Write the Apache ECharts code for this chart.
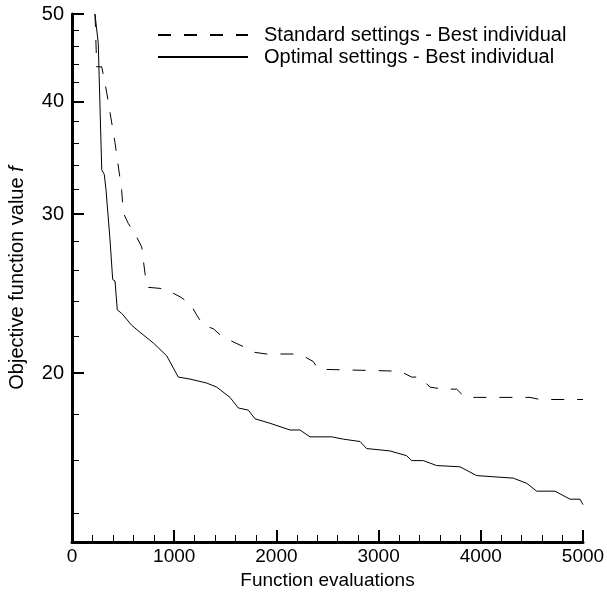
<!DOCTYPE html>
<html>
<head>
<meta charset="utf-8">
<script src="https://cdn.jsdelivr.net/npm/echarts@6/dist/echarts.min.js"></script>
<style>
html,body{margin:0;padding:0;background:#fff;}
#chart{width:607px;height:592px;}
</style>
</head>
<body>
<div id="chart"></div>
<script>
// Standard settings - Best individual (dashed)
var evalsStandard = [225, 242, 291, 340, 421, 486, 502, 551, 633, 682, 714, 737, 910, 1057, 1155, 1220, 1285, 1383, 1480, 1563, 1676, 1774, 1905, 2166, 2263, 2361, 2410, 3209, 3324, 3405, 3422, 3503, 3633, 3764, 3845, 3960, 4481, 4579, 5000];
var fStandard = [50, 43.7, 43.7, 40.9, 36.0, 31.9, 30.1, 29.3, 28.3, 27.6, 25.8, 24.9, 24.8, 24.3, 23.9, 23.2, 22.6, 22.4, 21.9, 21.7, 21.4, 21.1, 21.0, 21.0, 20.9, 20.6, 20.2, 20.1, 19.8, 19.8, 19.7, 19.3, 19.2, 19.2, 18.8, 18.8, 18.8, 18.7, 18.7];
// Optimal settings - Best individual (solid)
var evalsOptimal = [225, 257, 291, 316, 333, 372, 398, 421, 443, 486, 584, 665, 796, 927, 1040, 1155, 1318, 1416, 1546, 1627, 1725, 1791, 1937, 2133, 2231, 2329, 2541, 2655, 2818, 2883, 3112, 3275, 3324, 3437, 3568, 3796, 3960, 4318, 4449, 4547, 4726, 4775, 4873, 4971, 5000];
var fOptimal = [50, 46.4, 33.6, 33.2, 31.9, 28.1, 25.4, 25.3, 23.5, 23.3, 22.6, 22.2, 21.6, 20.9, 19.8, 19.7, 19.5, 19.3, 18.8, 18.3, 18.2, 17.8, 17.6, 17.3, 17.3, 17.0, 17.0, 16.9, 16.8, 16.5, 16.4, 16.2, 16.0, 16.0, 15.8, 15.75, 15.4, 15.3, 15.1, 14.8, 14.8, 14.7, 14.5, 14.5, 14.3];
// Axis ticks
var yMajorTicks = [20, 30, 40, 50];
var yMinorTicks = [14, 16, 18, 22, 24, 26, 28, 32, 34, 36, 38, 42, 44, 46, 48];
var xTicks = [0, 1000, 2000, 3000, 4000, 5000];
var seriesNames = ['Standard settings - Best individual', 'Optimal settings - Best individual'];

function pairs(xs, ys) { return xs.map(function (x, i) { return [x, ys[i]]; }); }

var FONT = '"Liberation Sans", Arial, sans-serif';
var chart = echarts.init(document.getElementById('chart'), null, {renderer: 'canvas'});
chart.setOption({
  animation: false,
  backgroundColor: '#fff',
  textStyle: {fontFamily: FONT, color: '#000'},
  grid: {left: 72, right: 24, top: 14, bottom: 50, containLabel: false, outerBoundsMode: 'none'},
  legend: {
    orient: 'vertical', left: 157, top: 24, padding: 0, itemGap: 0,
    itemWidth: 90, itemHeight: 10,
    itemStyle: {color: 'rgba(0,0,0,0)', borderWidth: 0, opacity: 0},
    textStyle: {fontFamily: FONT, fontSize: 20, color: '#000', lineHeight: 22, padding: [0, 0, 0, 11]},
    data: seriesNames
  },
  xAxis: {
    type: 'value', min: xTicks[0], max: xTicks[xTicks.length - 1], interval: 1000,
    name: 'Function evaluations', nameLocation: 'middle', nameGap: 27,
    nameTextStyle: {fontFamily: FONT, fontSize: 19, color: '#000'},
    axisLine: {show: true, lineStyle: {color: '#000', width: 3}},
    axisTick: {show: true, inside: true, length: 12, lineStyle: {color: '#000', width: 2}},
    minorTick: {show: true, splitNumber: 5, length: 7, lineStyle: {color: '#000', width: 1}},
    axisLabel: {fontFamily: FONT, fontSize: 19, color: '#000', margin: 5,
      formatter: function (v) { return String(v); }},
    splitLine: {show: false}, minorSplitLine: {show: false}
  },
  yAxis: [{
    type: 'log', logBase: 10, min: 13, max: 50,
    name: 'Objective function value {i|f}', nameLocation: 'middle', nameGap: 45,
    nameTextStyle: {fontFamily: FONT, fontSize: 20, color: '#000',
      rich: {i: {fontFamily: FONT, fontSize: 20, fontStyle: 'italic', color: '#000'}}},
    axisLine: {show: true, lineStyle: {color: '#000', width: 3}},
    axisTick: {show: true, inside: true, length: 12, customValues: yMajorTicks, lineStyle: {color: '#000', width: 2}},
    axisLabel: {fontFamily: FONT, fontSize: 20, color: '#000', margin: 8, customValues: yMajorTicks,
      formatter: function (v) { return String(Math.round(v)); }},
    splitLine: {show: false}, minorTick: {show: false}
  }, {
    type: 'log', logBase: 10, min: 13, max: 50, position: 'left',
    axisLine: {show: false},
    axisTick: {show: true, inside: true, length: 7, customValues: yMinorTicks, lineStyle: {color: '#000', width: 1}},
    axisLabel: {show: false},
    splitLine: {show: false}
  }],
  series: [{
    name: seriesNames[0], type: 'line', yAxisIndex: 0, symbol: 'none',
    data: pairs(evalsStandard, fStandard),
    lineStyle: {color: '#000', width: 1, type: [13, 13]}, itemStyle: {color: '#000'}
  }, {
    name: seriesNames[1], type: 'line', yAxisIndex: 0, symbol: 'none',
    data: pairs(evalsOptimal, fOptimal),
    lineStyle: {color: '#000', width: 1, type: 'solid'}, itemStyle: {color: '#000'}
  }]
});
</script>
</body>
</html>
